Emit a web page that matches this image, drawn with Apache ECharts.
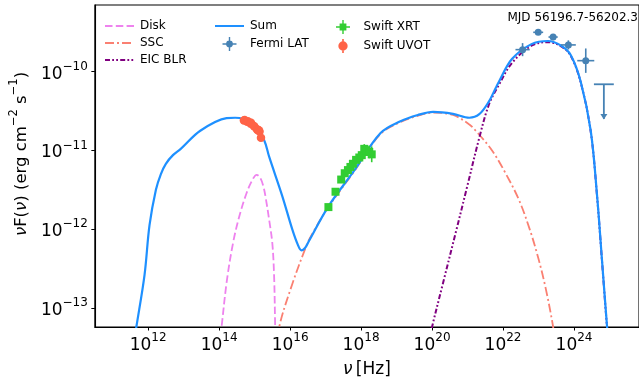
<!DOCTYPE html>
<html><head><meta charset="utf-8">
<script src="https://cdn.jsdelivr.net/npm/echarts@6/dist/echarts.min.js"></script>
<style>html,body{margin:0;padding:0;background:#fff}#c{width:639px;height:383px}</style>
</head><body><div id="c"></div>
<script>
// All values are log10(nu / Hz) and log10(nuFnu / erg cm^-2 s^-1)
const sumLogNu = [11.60, 11.67, 11.90, 12.04, 12.22, 12.36, 12.50, 12.70, 12.92, 13.47, 14.21, 14.45, 14.67, 15.00, 15.27, 15.41, 15.78, 16.06, 16.22, 16.32, 16.42, 16.52, 17.08, 17.80, 18.55, 19.11, 19.60, 20.03, 20.59, 21.05, 21.33, 21.60, 21.79, 21.88, 22.25, 22.80, 23.27, 23.64, 23.91, 24.19, 24.47, 24.65, 24.79, 24.93, 24.98];
const sumLogF  = [-13.44, -13.24, -12.58, -11.95, -11.50, -11.30, -11.17, -11.06, -10.98, -10.75, -10.59, -10.585, -10.60, -10.68, -10.87, -11.08, -11.58, -12.00, -12.20, -12.27, -12.24, -12.16, -11.71, -11.26, -10.78, -10.63, -10.55, -10.51, -10.535, -10.585, -10.54, -10.38, -10.21, -10.13, -9.84, -9.65, -9.61, -9.67, -9.79, -10.13, -10.75, -11.58, -12.41, -13.24, -13.50];

const diskLogNu = [14.00, 14.07, 14.22, 14.40, 14.58, 14.76, 14.92, 15.06, 15.16, 15.25, 15.32, 15.41, 15.50, 15.55, 15.58, 15.60];
const diskLogF  = [-13.50, -13.24, -12.65, -12.16, -11.82, -11.56, -11.39, -11.31, -11.35, -11.46, -11.62, -11.88, -12.18, -12.60, -13.24, -13.60];

const sscLogNu = [15.62, 15.69, 16.06, 16.47, 16.60, 17.08, 17.80, 18.55, 19.11, 19.60, 20.03, 20.59, 21.05, 21.23, 21.69, 22.07, 22.44, 22.75, 23.00, 23.20, 23.41, 23.48];
const sscLogF  = [-13.60, -13.25, -12.70, -12.20, -12.08, -11.72, -11.27, -10.79, -10.64, -10.56, -10.52, -10.55, -10.67, -10.75, -11.00, -11.29, -11.62, -12.00, -12.38, -12.75, -13.24, -13.50];

const eicLogNu = [19.90, 19.99, 20.30, 20.68, 21.00, 21.33, 21.60, 21.88, 22.25, 22.80, 23.27, 23.64, 23.91, 24.19, 24.47, 24.65, 24.79, 24.93, 24.98];
const eicLogF  = [-13.45, -13.26, -12.70, -12.02, -11.44, -10.84, -10.42, -10.17, -9.89, -9.67, -9.625, -9.68, -9.80, -10.14, -10.76, -11.59, -12.42, -13.25, -13.50];

const fermiLogNu = [22.55, 22.99, 23.41, 23.84, 24.33];
const fermiLogF  = [-9.72, -9.50, -9.56, -9.66, -9.86];
const fermiXErr  = [0.20, 0.14, 0.13, 0.21, 0.24];
const fermiYErr  = [0.083, 0.03, 0.04, 0.058, 0.155];

const fermiUlLogNu = [24.84];
const fermiUlLogF  = [-10.16];
const fermiUlXErr  = [0.28];
const fermiUlArrow = [0.44];

const xrtLogNu = [17.08, 17.28, 17.44, 17.54, 17.63, 17.70, 17.77, 17.86, 17.95, 18.02, 18.09, 18.14, 18.23, 18.30];
const xrtLogF  = [-11.72, -11.525, -11.37, -11.29, -11.25, -11.21, -11.17, -11.12, -11.09, -11.06, -10.98, -11.00, -11.02, -11.05];
const xrtXErr  = [0.08, 0.06, 0.05, 0.05, 0.05, 0.05, 0.05, 0.05, 0.05, 0.05, 0.06, 0.06, 0.07, 0.08];
const xrtYErr  = [0.03, 0.03, 0.04, 0.04, 0.04, 0.05, 0.05, 0.05, 0.05, 0.06, 0.06, 0.07, 0.08, 0.10];

const uvotLogNu = [14.70, 14.72, 14.79, 14.81, 14.89, 14.90, 14.98, 15.00, 15.07, 15.08, 15.12, 15.14, 15.18];
const uvotLogF  = [-10.62, -10.615, -10.635, -10.63, -10.66, -10.65, -10.69, -10.70, -10.73, -10.74, -10.745, -10.76, -10.84];

const xTickExps = [12, 14, 16, 18, 20, 22, 24];
const yTickExps = [-13, -12, -11, -10];
const xRange = [10.5, 25.83];
const yRange = [-13.243, -9.153];
const infoText = 'MJD 56196.7-56202.3';

const FONT = 'DejaVu Sans';
const zip = (a, b) => a.map((v, i) => [v, b[i]]);
const zip4 = (a, b, c, d) => a.map((v, i) => [v, b[i], c[i], d[i]]);

const C = {sum: '#1E90FF', disk: '#EE82EE', ssc: '#FA8072', eic: '#800080', fermi: '#4682B4', xrt: '#32CD32', uvot: '#FF6347'};

function powLabel(v) {
  const e = String(Math.round(v)).replace('-', '\u2212');
  return '{b|10}{s|' + e + '}';
}
const tickRich = {
  b: {fontSize: 17, fontFamily: FONT, color: '#000', lineHeight: 22, verticalAlign: 'bottom'},
  s: {fontSize: 12, fontFamily: FONT, color: '#000', lineHeight: 22, verticalAlign: 'top'}
};

function errRender(kind, size) {
  return function (params, api) {
    const x = api.value(0), y = api.value(1), ex = api.value(2), ey = api.value(3);
    const c = api.coord([x, y]);
    const l = api.coord([x - ex, y]), r = api.coord([x + ex, y]);
    const b = api.coord([x, y - ey]), t = api.coord([x, y + ey]);
    const color = api.visual('color');
    const st = {stroke: color, lineWidth: 1.6};
    const ch = [
      {type: 'line', shape: {x1: l[0], y1: l[1], x2: r[0], y2: r[1]}, style: st},
      {type: 'line', shape: {x1: b[0], y1: b[1], x2: t[0], y2: t[1]}, style: st}
    ];
    if (kind === 'circle') ch.push({type: 'circle', shape: {cx: c[0], cy: c[1], r: size / 2}, style: {fill: color}});
    else ch.push({type: 'rect', shape: {x: c[0] - size / 2, y: c[1] - size / 2, width: size, height: size}, style: {fill: color}});
    return {type: 'group', children: ch};
  };
}
function ulRender(params, api) {
  const x = api.value(0), y = api.value(1), ex = api.value(2), len = api.value(3);
  const l = api.coord([x - ex, y]), r = api.coord([x + ex, y]);
  const t = api.coord([x, y]), b = api.coord([x, y - len]);
  const color = api.visual('color');
  const st = {stroke: color, lineWidth: 1.8};
  return {type: 'group', children: [
    {type: 'line', shape: {x1: l[0], y1: l[1], x2: r[0], y2: r[1]}, style: st},
    {type: 'line', shape: {x1: t[0], y1: t[1], x2: b[0], y2: b[1]}, style: st},
    {type: 'polygon', shape: {points: [[b[0] - 3.5, b[1] - 5], [b[0] + 3.5, b[1] - 5], [b[0], b[1] + 0.5]]}, style: {fill: color}}
  ]};
}

const iconFermi = 'path://M0 6.3H14V7.7H0Z M6.3 0H7.7V14H6.3Z M3.6 7A3.4 3.4 0 1 1 10.4 7A3.4 3.4 0 1 1 3.6 7Z';
const iconXrt = 'path://M0 6.3H14V7.7H0Z M6.3 0H7.7V14H6.3Z M3.6 3.6H10.4V10.4H3.6Z';
const iconUvot = 'path://M6.3 1H7.7V13H6.3Z M3 7A4 4 0 1 1 11 7A4 4 0 1 1 3 7Z';
const hideSym = {opacity: 0};

const legendBase = {orient: 'vertical', top: 15, itemWidth: 29, itemHeight: 14, itemGap: 5,
  textStyle: {fontSize: 12, fontFamily: FONT, color: '#000', padding: [0, 0, 0, 1]}, selectedMode: false};

const option = {
  animation: false,
  backgroundColor: '#fff',
  grid: {left: 89, right: -3, top: 5, bottom: 49.5, show: true, borderColor: '#000', borderWidth: 1.1, backgroundColor: 'transparent'},
  title: {text: infoText, right: 1, top: 12, padding: 0, textStyle: {fontSize: 12, fontFamily: FONT, color: '#000', fontWeight: 'normal'}},
  legend: [
    Object.assign({}, legendBase, {left: 99, data: [{name: 'Disk', itemStyle: hideSym}, {name: 'SSC', itemStyle: hideSym}, {name: 'EIC BLR', itemStyle: hideSym}]}),
    Object.assign({}, legendBase, {left: 209, data: [{name: 'Sum', itemStyle: hideSym}, {name: 'Fermi LAT', icon: iconFermi, itemStyle: {color: C.fermi, borderWidth: 0}}]}),
    Object.assign({}, legendBase, {left: 331, data: [{name: 'Swift XRT', icon: iconXrt, itemStyle: {color: C.xrt, borderWidth: 0}}, {name: 'Swift UVOT', icon: iconUvot, itemStyle: {color: C.uvot, borderWidth: 0}}]})
  ],
  xAxis: {
    type: 'value', min: xRange[0], max: xRange[1],
    name: '{i|\u03bd} {n|[Hz]}', nameLocation: 'middle', nameGap: 34,
    nameTextStyle: {rich: {i: {fontSize: 17, fontFamily: FONT, fontStyle: 'italic', color: '#000'}, n: {fontSize: 17, fontFamily: FONT, color: '#000'}}},
    axisLine: {show: true, lineStyle: {color: '#000', width: 1.1}},
    axisTick: {show: true, length: 3.5, customValues: xTickExps, lineStyle: {color: '#000', width: 1}},
    axisLabel: {customValues: xTickExps, formatter: powLabel, margin: 5, rich: tickRich},
    splitLine: {show: false}
  },
  yAxis: {
    type: 'value', min: yRange[0], max: yRange[1],
    name: '{i|\u03bd}{n|F(}{i|\u03bd}{n|) (erg cm}{s|\u22122}{n| s}{s|\u22121}{n|)}',
    nameLocation: 'middle', nameRotate: 90, nameGap: 62,
    nameTextStyle: {padding: [0, 0, 0, 24], rich: {
      i: {fontSize: 16.5, fontFamily: FONT, fontStyle: 'italic', color: '#000', lineHeight: 22, verticalAlign: 'bottom'},
      n: {fontSize: 16.5, fontFamily: FONT, color: '#000', lineHeight: 22, verticalAlign: 'bottom'},
      s: {fontSize: 11.5, fontFamily: FONT, color: '#000', lineHeight: 22, verticalAlign: 'top'}}},
    axisLine: {show: true, lineStyle: {color: '#000', width: 1.1}},
    axisTick: {show: true, length: 3.5, customValues: yTickExps, lineStyle: {color: '#000', width: 1}},
    axisLabel: {customValues: yTickExps, formatter: powLabel, margin: 7, rich: tickRich},
    splitLine: {show: false}
  },
  series: [
    {name: 'Disk', type: 'line', data: zip(diskLogNu, diskLogF), smooth: 0.35, symbol: 'none', clip: true, z: 2,
      itemStyle: {color: C.disk}, lineStyle: {color: C.disk, width: 1.8, type: [7.5, 3.3]}},
    {name: 'SSC', type: 'line', data: zip(sscLogNu, sscLogF), smooth: 0.35, symbol: 'none', clip: true, z: 2,
      itemStyle: {color: C.ssc}, lineStyle: {color: C.ssc, width: 1.8, type: [9, 3, 2, 3]}},
    {name: 'EIC BLR', type: 'line', data: zip(eicLogNu, eicLogF), smooth: 0.35, symbol: 'none', clip: true, z: 2,
      itemStyle: {color: C.eic}, lineStyle: {color: C.eic, width: 2, type: [5, 2.2, 1.8, 2.2, 1.8, 2.2]}},
    {name: 'Sum', type: 'line', data: zip(sumLogNu, sumLogF), smooth: 0.35, symbol: 'none', clip: true, z: 3,
      itemStyle: {color: C.sum}, lineStyle: {color: C.sum, width: 2.2}},
    {name: 'Fermi LAT', type: 'custom', renderItem: errRender('circle', 7), clip: true, z: 5,
      itemStyle: {color: C.fermi}, encode: {x: 0, y: 1}, data: zip4(fermiLogNu, fermiLogF, fermiXErr, fermiYErr)},
    {name: 'Fermi LAT UL', type: 'custom', renderItem: ulRender, clip: true, z: 5,
      itemStyle: {color: C.fermi}, encode: {x: 0, y: 1}, data: zip4(fermiUlLogNu, fermiUlLogF, fermiUlXErr, fermiUlArrow)},
    {name: 'Swift XRT', type: 'custom', renderItem: errRender('rect', 8), clip: true, z: 5,
      itemStyle: {color: C.xrt}, encode: {x: 0, y: 1}, data: zip4(xrtLogNu, xrtLogF, xrtXErr, xrtYErr)},
    {name: 'Swift UVOT', type: 'scatter', symbol: 'circle', symbolSize: 8.5, clip: true, z: 5,
      itemStyle: {color: C.uvot, opacity: 1}, data: zip(uvotLogNu, uvotLogF)}
  ]
};
const chart = echarts.init(document.getElementById('c'), null, {renderer: 'canvas'});
chart.setOption(option);
</script></body></html>
